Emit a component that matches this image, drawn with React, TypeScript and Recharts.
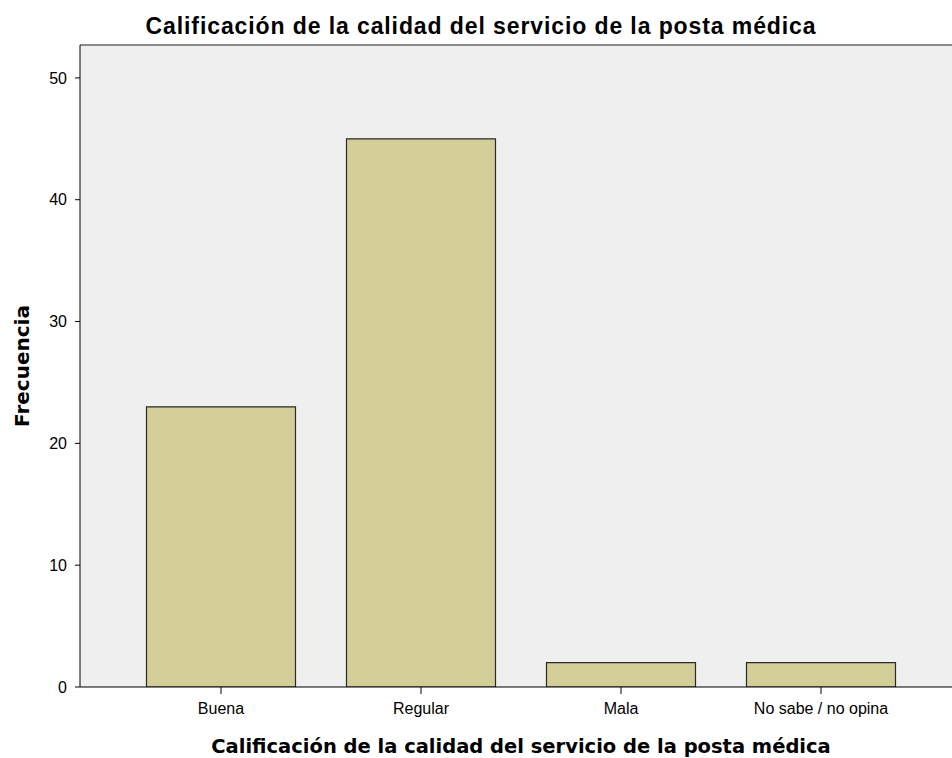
import React from 'react';
import { BarChart, Bar, XAxis, YAxis, CartesianGrid, ReferenceLine } from 'recharts';

const categories = ['Buena', 'Regular', 'Mala', 'No sabe / no opina'];
const frecuencia = [23, 45, 2, 2];
const yTicks = [0, 10, 20, 30, 40, 50];
const yMax = 52.7;

const data = categories.map((c, i) => ({ name: c, value: frecuencia[i] }));

const tickFont = { fill: '#000', fontSize: 16, fontFamily: 'Liberation Sans, Arial, sans-serif' };

export default function App() {
  return (
    <div style={{ position: 'absolute', left: 0, top: 0, width: 952, height: 758, overflow: 'hidden', background: '#fff' }}>
      <BarChart
        width={970}
        height={758}
        data={data}
        barCategoryGap={25.5}
        margin={{ top: 45, right: 8, left: 50, bottom: 41 }}
      >
        <CartesianGrid horizontal={false} vertical={false} fill="#EFEFEF" />
        <ReferenceLine y={yMax} stroke="#8a8a8a" strokeWidth={2} />
        <XAxis
          dataKey="name"
          height={30}
          padding={{ left: 41, right: 41 }}
          stroke="#000"
          tickLine={{ stroke: '#000' }}
          tickSize={7}
          tickMargin={9}
          tick={tickFont}
          interval={0}
        />
        <YAxis
          width={30}
          domain={[0, yMax]}
          ticks={yTicks}
          stroke="#000"
          tickSize={5}
          tickMargin={8}
          tick={tickFont}
          allowDataOverflow
        />
        <Bar dataKey="value" fill="#D3CE97" stroke="#2a2a2a" strokeWidth={1.2} isAnimationActive={false} />
      </BarChart>
      <div style={{ position: 'absolute', left: 481, top: 26, transform: 'translate(-50%, -50%)', fontFamily: 'Liberation Sans, Arial, sans-serif', fontWeight: 'bold', fontSize: 23, letterSpacing: 0.9, color: '#000', whiteSpace: 'nowrap', lineHeight: 1 }}>
        Calificación de la calidad del servicio de la posta médica
      </div>
      <div style={{ position: 'absolute', left: 521, top: 747, transform: 'translate(-50%, -50%)', fontFamily: 'DejaVu Sans, Verdana, sans-serif', fontWeight: 'bold', fontSize: 19.5, color: '#000', whiteSpace: 'nowrap', lineHeight: 1 }}>
        Calificación de la calidad del servicio de la posta médica
      </div>
      <div style={{ position: 'absolute', left: 22, top: 366, transform: 'translate(-50%, -50%) rotate(-90deg)', fontFamily: 'DejaVu Sans, Verdana, sans-serif', fontWeight: 'bold', fontSize: 20, color: '#000', whiteSpace: 'nowrap', lineHeight: 1 }}>
        Frecuencia
      </div>
    </div>
  );
}
